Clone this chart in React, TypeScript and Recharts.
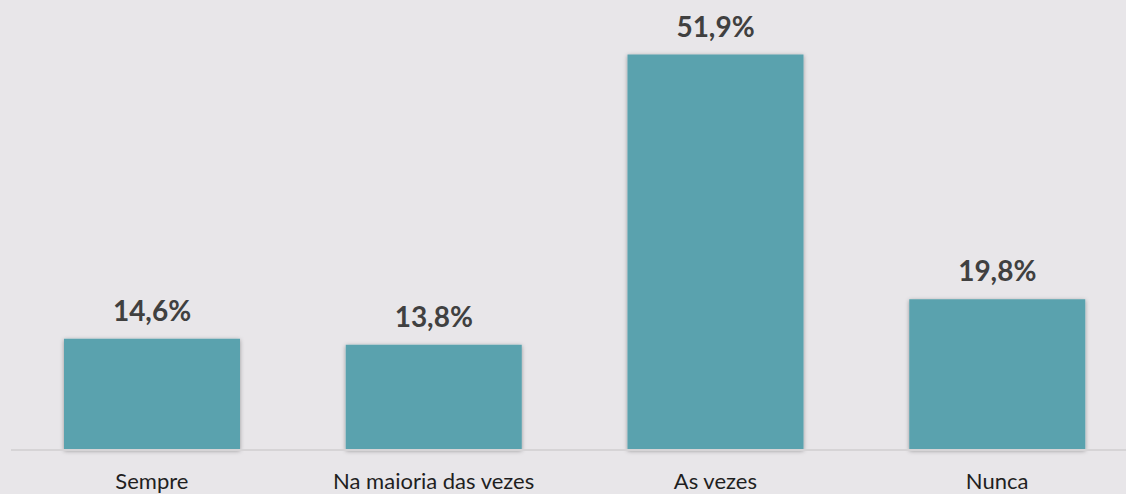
import { BarChart, Bar, XAxis, YAxis, LabelList } from "recharts";

const categories = ["Sempre", "Na maioria das vezes", "As vezes", "Nunca"];
const shares = [14.6, 13.8, 51.9, 19.8];

const data = categories.map((name, i) => ({ name, value: shares[i] }));

const fmt = (v: number) => `${v.toFixed(1).replace(".", ",")}%`;

const App = () => {
  return (
    <div
      style={{
        position: "fixed",
        inset: 0,
        width: 1126,
        height: 494,
        overflow: "hidden",
        background: "#e8e6e9",
        fontFamily: "Lato, 'Open Sans', sans-serif",
      }}
    >
      <BarChart
        width={1140}
        height={494}
        data={data}
        margin={{ top: 31, right: 2, left: 11, bottom: 14 }}
        barSize={176}
      >
        <defs>
          <filter id="barShadow" x="-10%" y="-10%" width="120%" height="120%">
            <feDropShadow dx="0" dy="1" stdDeviation="2" floodColor="#000" floodOpacity="0.35" />
          </filter>
        </defs>
        <XAxis
          dataKey="name"
          height={30}
          tickLine={false}
          tickSize={0}
          tickMargin={23}
          axisLine={{ stroke: "#d6d4d6", strokeWidth: 2 }}
          tick={{ fill: "#1f1f1f", fontSize: 22 }}
          interval={0}
        />
        <YAxis hide domain={[0, 55]} />
        <Bar
          dataKey="value"
          fill="#5aa2ae"
          filter="url(#barShadow)"
          isAnimationActive={false}
        >
          <LabelList
            dataKey="value"
            position="top"
            offset={18}
            formatter={(v: any) => fmt(Number(v))}
            style={{ fill: "#404040", fontSize: 28, fontWeight: 700 }}
          />
        </Bar>
      </BarChart>
    </div>
  );
};

export default App;
